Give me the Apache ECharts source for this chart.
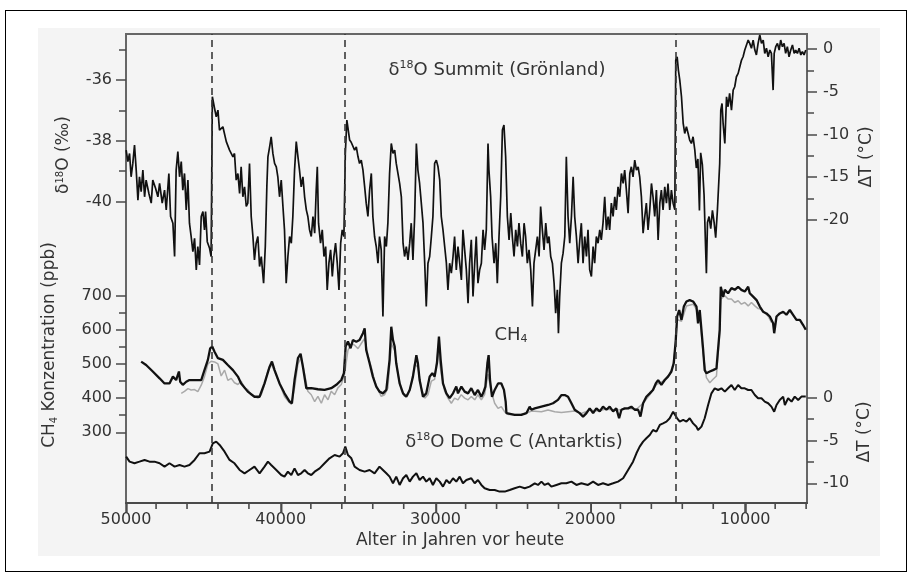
<!DOCTYPE html>
<html>
<head>
<meta charset="utf-8">
<script src="https://cdn.jsdelivr.net/npm/echarts@6/dist/echarts.min.js"></script>
<style>
    html, body { margin: 0; padding: 0; background: #fff; }
    #frame { position: absolute; left: 5px; top: 10px; width: 900px; height: 560px; border: 1px solid #000; }
    #panel { position: absolute; left: 38px; top: 28px; width: 842px; height: 528px; background: #f4f4f4; }
    #chart { position: absolute; left: 0; top: 0; width: 909px; height: 575px; }
</style>
</head>
<body>
<div id="frame"></div>
<div id="panel"></div>
<div id="chart"></div>
<script>
// Alter (Jahre vor heute) / Wert
const summitD18O = [
    [49990,-38.31],[49880,-38.69],[49770,-38.42],[49670,-39.19],[49560,-38.75],[49450,-38.14],[49340,-38.97],[49230,-39.96],
    [49130,-39.19],[49020,-39.68],[48910,-38.97],[48800,-39.85],[48700,-39.30],[48520,-39.74],[48370,-40.06],[48270,-39.30],
    [48090,-39.57],[47940,-39.85],[47830,-39.41],[47660,-40.06],[47510,-39.63],[47400,-40.28],[47230,-39.08],[47120,-40.50],
    [46970,-40.72],[46860,-41.82],[46760,-38.97],[46650,-38.36],[46540,-39.19],[46430,-38.69],[46330,-39.63],[46220,-39.08],
    [46110,-40.28],[46000,-39.30],[45900,-40.72],[45790,-41.16],[45680,-41.66],[45570,-41.22],[45460,-42.26],[45360,-41.49],
    [45250,-42.10],[45140,-40.50],[45030,-40.34],[44930,-40.94],[44860,-40.34],[44750,-41.33],[44600,-41.55],[44500,-41.82],
    [44420,-36.55],[44280,-36.93],[44170,-37.21],[44060,-36.99],[43960,-37.65],[43740,-37.54],[43520,-38.03],[43310,-38.31],
    [43090,-38.53],[42990,-38.42],[42880,-39.30],[42770,-39.08],[42660,-39.74],[42560,-38.86],[42450,-39.85],[42340,-39.52],
    [42230,-40.17],[42130,-40.06],[42020,-38.75],[41910,-40.50],[41800,-41.16],[41700,-41.93],[41590,-41.38],[41480,-41.16],
    [41370,-42.15],[41260,-41.82],[41110,-42.70],[41000,-41.49],[40900,-39.52],[40830,-38.53],[40720,-38.20],[40620,-37.87],
    [40510,-38.42],[40400,-38.75],[40290,-38.86],[40190,-39.19],[40080,-39.85],[39970,-39.30],[39860,-40.17],[39760,-40.94],
    [39650,-42.70],[39540,-41.82],[39430,-41.16],[39320,-41.38],[39220,-40.50],[39110,-38.97],[39000,-38.03],[38890,-38.53],
    [38790,-38.97],[38680,-39.52],[38570,-39.19],[38460,-39.85],[38350,-40.28],[38250,-40.50],[38140,-40.94],[38030,-41.16],
    [37920,-40.50],[37810,-41.05],[37710,-39.63],[37640,-38.86],[37560,-40.72],[37430,-41.38],[37320,-40.94],[37210,-41.82],
    [37100,-41.49],[37000,-42.92],[36890,-42.04],[36780,-41.60],[36670,-42.48],[36570,-41.82],[36460,-41.38],[36350,-42.04],
    [36240,-42.92],[36130,-41.38],[36030,-40.94],[35920,-41.16],[35830,-38.42],[35730,-37.32],[35550,-37.98],[35450,-38.05],
    [35340,-38.09],[35230,-38.31],[35120,-38.20],[35010,-38.53],[34910,-38.75],[34800,-38.64],[34690,-38.97],[34580,-39.52],
    [34480,-40.06],[34370,-40.50],[34260,-39.63],[34150,-39.08],[34050,-40.50],[33940,-41.16],[33830,-41.49],[33720,-42.04],
    [33620,-41.16],[33510,-41.60],[33400,-43.80],[33290,-41.16],[33180,-41.49],[33080,-40.72],[32970,-39.08],[32860,-38.09],
    [32750,-38.42],[32640,-38.31],[32540,-38.75],[32430,-39.08],[32320,-39.41],[32210,-39.85],[32100,-41.38],[32000,-41.82],
    [31890,-41.49],[31780,-41.93],[31670,-41.38],[31570,-40.72],[31460,-41.93],[31350,-40.50],[31240,-38.09],[31140,-38.97],
    [31030,-39.41],[30920,-40.06],[30810,-40.72],[30700,-42.04],[30600,-43.47],[30490,-42.04],[30380,-41.82],[30270,-41.16],
    [30170,-40.50],[30060,-38.75],[29950,-38.64],[29840,-38.86],[29730,-39.30],[29630,-40.50],[29520,-40.94],[29410,-41.49],
    [29300,-42.04],[29200,-42.92],[29090,-42.04],[28980,-42.37],[28870,-41.82],[28770,-41.16],[28660,-42.26],[28550,-41.49],
    [28440,-42.04],[28330,-42.59],[28230,-40.94],[28120,-41.60],[28010,-42.26],[27900,-43.36],[27800,-42.04],[27690,-41.27],
    [27580,-43.14],[27470,-42.04],[27370,-41.16],[27260,-42.70],[27150,-42.26],[27040,-42.04],[26930,-40.94],[26830,-41.60],
    [26720,-40.94],[26610,-38.09],[26550,-38.97],[26440,-39.85],[26350,-41.16],[26220,-42.04],[26110,-41.38],[26010,-42.70],
    [25900,-41.16],[25790,-39.85],[25680,-37.65],[25580,-37.48],[25470,-38.53],[25360,-40.50],[25250,-41.27],[25140,-40.39],
    [25040,-41.16],[24930,-41.82],[24820,-40.94],[24710,-41.49],[24610,-40.72],[24500,-41.38],[24390,-41.82],[24280,-40.72],
    [24180,-41.16],[24070,-42.04],[23960,-41.60],[23850,-42.26],[23740,-43.47],[23640,-42.04],[23530,-41.60],[23420,-41.16],
    [23310,-41.82],[23210,-40.17],[23100,-40.94],[22990,-41.60],[22880,-40.72],[22770,-41.38],[22670,-41.16],[22560,-41.82],
    [22450,-42.04],[22340,-42.70],[22240,-43.69],[22130,-42.92],[22060,-44.35],[21980,-43.14],[21870,-42.04],[21760,-41.71],
    [21650,-41.16],[21550,-38.53],[21440,-40.50],[21330,-41.38],[21220,-40.50],[21110,-39.19],[21010,-40.50],[20900,-41.16],
    [20790,-42.04],[20680,-41.27],[20580,-40.72],[20470,-42.04],[20360,-41.16],[20250,-41.82],[20150,-40.94],[20040,-42.26],
    [19930,-42.48],[19820,-41.49],[19720,-42.04],[19610,-41.16],[19500,-41.38],[19390,-40.94],[19290,-41.27],[19180,-40.72],
    [19070,-39.85],[18960,-40.94],[18850,-40.50],[18750,-40.94],[18640,-40.06],[18530,-40.50],[18420,-39.85],[18320,-40.28],
    [18210,-39.52],[18100,-39.85],[17990,-39.08],[17880,-39.41],[17780,-38.97],[17670,-39.63],[17560,-40.39],[17450,-39.08],
    [17350,-38.86],[17240,-39.19],[17130,-38.64],[17020,-38.97],[16910,-38.86],[16810,-39.19],[16700,-39.85],[16590,-41.05],
    [16480,-40.50],[16380,-40.06],[16270,-40.94],[16160,-40.28],[16050,-39.41],[15950,-39.85],[15840,-40.50],[15730,-39.63],
    [15620,-41.27],[15510,-40.06],[15410,-39.63],[15300,-40.28],[15190,-39.52],[15080,-40.06],[14980,-39.41],[14870,-40.28],
    [14760,-39.63],[14650,-40.06],[14540,-40.28],[14480,-35.34],[14390,-35.23],[14310,-35.67],[14220,-36.00],[14110,-36.55],
    [14000,-37.43],[13900,-37.76],[13790,-37.54],[13680,-37.76],[13580,-37.98],[13470,-38.09],[13360,-37.87],[13250,-38.30],
    [13150,-38.90],[13050,-38.60],[12950,-40.30],[12870,-38.40],[12760,-38.80],[12650,-39.80],[12560,-41.40],[12500,-42.37],
    [12430,-40.70],[12330,-40.50],[12220,-40.90],[12110,-40.30],[12000,-40.70],[11900,-41.20],[11790,-40.30],[11640,-38.75],
    [11570,-36.99],[11490,-36.77],[11420,-37.43],[11310,-38.09],[11200,-36.55],[11100,-36.88],[11000,-36.44],[10880,-36.99],
    [10770,-36.33],[10670,-36.22],[10560,-35.89],[10450,-35.78],[10340,-35.56],[10230,-35.34],[10130,-35.23],[10020,-35.01],
    [9910,-34.84],[9800,-34.68],[9700,-34.79],[9590,-34.95],[9480,-34.68],[9370,-35.01],[9270,-35.17],[9160,-34.79],
    [9050,-34.51],[8940,-34.79],[8830,-34.68],[8730,-35.12],[8620,-34.95],[8510,-35.23],[8400,-35.01],[8300,-35.12],
    [8190,-36.33],[8120,-35.12],[8020,-34.90],[7910,-34.79],[7800,-35.01],[7700,-34.68],[7590,-34.90],[7480,-34.79],
    [7380,-35.12],[7270,-34.90],[7160,-35.23],[7050,-35.01],[6940,-34.84],[6830,-35.12],[6730,-35.01],[6620,-35.12],
    [6510,-34.95],[6400,-35.17],[6300,-35.06],[6190,-35.17],[6080,-35.01]
];

// CH4 (ppb), schwarze Kurve
const ch4Main = [
    [49020,507],[48700,497],[48270,478],[47830,458],[47510,443],[47190,443],[46970,463],[46760,453],[46580,478],[46500,448],
    [46330,439],[46110,448],[45900,453],[45570,453],[45140,453],[44930,482],[44710,512],[44560,546],[44430,551],[44280,536],
    [44060,517],[43740,512],[43420,497],[43090,482],[42770,463],[42560,443],[42130,419],[41700,404],[41370,404],[41050,443],
    [40720,492],[40570,507],[40400,482],[40080,443],[39760,414],[39430,390],[39280,385],[39110,453],[38890,517],[38720,530],
    [38570,492],[38350,429],[38030,429],[37600,426],[37170,424],[36740,429],[36410,439],[36090,453],[35920,473],[35810,551],
    [35660,566],[35490,546],[35340,570],[35120,565],[34910,570],[34690,590],[34580,604],[34480,541],[34260,502],[34050,463],
    [33830,434],[33620,419],[33400,414],[33180,424],[32970,512],[32860,609],[32750,570],[32640,551],[32540,502],[32320,443],
    [32100,414],[31890,404],[31670,424],[31460,463],[31240,526],[31140,502],[31030,453],[30810,404],[30600,414],[30380,463],
    [30210,473],[30060,463],[29910,502],[29780,580],[29670,512],[29520,443],[29300,414],[29090,400],[28870,414],[28660,434],
    [28550,414],[28330,434],[28120,419],[27900,414],[27690,429],[27470,409],[27260,424],[27040,404],[26930,414],[26780,434],
    [26650,502],[26570,526],[26480,453],[26350,404],[26180,424],[25960,443],[25750,443],[25580,424],[25470,390],[25420,356],
    [25320,351],[24890,351],[24460,351],[24130,356],[23920,375],[23810,366],[23590,370],[23160,375],[22730,380],[22410,385],
    [22090,395],[21870,409],[21650,409],[21440,404],[21220,385],[21010,366],[20690,356],[20470,346],[20250,356],[20040,370],
    [19820,356],[19610,370],[19390,361],[19180,375],[18960,366],[18750,375],[18530,361],[18320,370],[18140,341],[17990,366],
    [17780,370],[17560,370],[17350,375],[17130,366],[16910,366],[16760,346],[16590,385],[16380,404],[16160,414],[15950,424],
    [15770,443],[15620,453],[15410,439],[15190,453],[14980,463],[14760,478],[14610,502],[14480,570],[14390,639],[14260,658],
    [14110,629],[13960,668],[13790,683],[13580,687],[13360,683],[13250,683],[13140,668],[13040,619],[12930,658],[12820,600],
    [12710,541],[12610,482],[12500,473],[12280,478],[12070,482],[11850,487],[11740,482],[11640,600],[11570,726],[11420,697],
    [11310,717],[11100,707],[10880,722],[10670,717],[10450,726],[10240,717],[10020,712],[9800,726],[9700,707],[9480,697],
    [9260,687],[9050,668],[8840,653],[8620,648],[8400,639],[8190,619],[8120,590],[7970,639],[7760,648],[7540,653],
    [7330,644],[7110,658],[6900,644],[6680,629],[6460,629],[6250,614],[6080,600]
];

// CH4 (ppb), zweiter Datensatz (grau)
const ch4Second = [
    [46430,414],[46220,420],[46000,428],[45790,424],[45570,425],[45360,419],[45140,438],[44930,463],[44710,500],[44500,508],
    [44280,506],[44060,500],[43850,465],[43630,482],[43420,452],[43200,458],[42990,445],[42770,440],[42560,450],[42340,430],
    [42130,425],[41910,410],[41700,405],[41480,400],[41260,410],[41050,440],[40830,480],[40620,500],[40400,478],[40190,455],
    [39970,430],[39760,405],[39540,392],[39320,382],[39110,430],[38890,500],[38680,520],[38460,470],[38250,420],[38030,410],
    [37810,390],[37600,405],[37380,385],[37170,410],[36950,395],[36740,420],[36520,410],[36310,430],[36090,440],[35880,470],
    [35660,540],[35450,560],[35230,555],[35010,545],[34800,560],[34580,575],[34370,525],[34150,490],[33940,450],[33720,425],
    [33510,405],[33290,410],[33080,430],[32860,560],[32640,540],[32430,470],[32210,425],[32000,405],[31780,410],[31570,440],
    [31350,500],[31140,490],[30920,430],[30700,400],[30490,410],[30270,450],[30060,455],[29840,540],[29630,470],[29410,420],
    [29200,400],[28980,385],[28770,400],[28550,395],[28340,410],[28120,400],[27900,395],[27690,405],[27470,395],[27260,410],
    [27040,395],[26830,410],[26610,470],[26400,420],[26180,385],[25960,370],[25750,375],[25530,360],[25310,352],[24890,352],
    [24460,353],[24130,356],[23800,362],[23160,360],[22730,365],[22300,360],[21870,358],[21440,360],[21010,362],[20580,355],
    [20040,365],[19500,362],[19000,368],[18500,365],[18000,366],[17500,370],[17000,368],[16590,385],[16160,410],[15730,440],
    [15300,450],[14870,470],[14650,500],[14480,560],[14390,630],[14110,625],[13790,670],[13360,675],[13140,660],[12930,640],
    [12710,530],[12500,460],[12280,445],[12070,455],[11850,465],[11640,590],[11570,690],[11310,700],[11100,690],[10880,690],
    [10670,680],[10450,685],[10240,675],[10020,680],[9800,670],[9590,680],[9370,670],[9160,662],[8940,660],[8730,650],
    [8510,640],[8300,622]
];

// Dome C, Temperaturabweichung (°C)
const domeC = [
    [49990,-6.88],[49770,-7.47],[49450,-7.66],[49130,-7.47],[48800,-7.27],[48480,-7.47],[48160,-7.47],[47830,-7.66],
    [47510,-8.05],[47190,-7.66],[46860,-8.05],[46540,-7.86],[46220,-8.05],[45900,-7.86],[45570,-7.27],[45250,-6.49],
    [44930,-6.49],[44600,-6.30],[44390,-5.33],[44170,-5.13],[43950,-5.52],[43630,-6.30],[43310,-7.27],[42990,-7.66],
    [42660,-8.44],[42340,-8.83],[42020,-8.44],[41700,-8.05],[41370,-8.83],[41050,-8.05],[40830,-7.47],[40620,-7.86],
    [40290,-8.44],[39970,-9.03],[39760,-9.22],[39540,-8.64],[39320,-9.03],[39110,-8.25],[38890,-9.03],[38680,-8.83],
    [38460,-8.44],[38250,-8.83],[38030,-9.03],[37810,-8.64],[37490,-8.25],[37170,-7.66],[36850,-7.08],[36520,-6.69],
    [36200,-6.88],[35980,-6.49],[35830,-5.72],[35660,-6.69],[35440,-7.08],[35230,-8.05],[34910,-8.44],[34580,-8.64],
    [34260,-8.44],[33940,-8.83],[33620,-8.05],[33400,-8.44],[33180,-8.83],[32970,-9.22],[32750,-10.00],[32540,-9.22],
    [32320,-10.19],[32100,-9.41],[31890,-9.03],[31670,-9.80],[31460,-9.22],[31240,-8.83],[31030,-9.61],[30810,-9.22],
    [30600,-9.80],[30380,-9.41],[30170,-10.19],[29950,-9.41],[29730,-9.80],[29520,-10.39],[29300,-9.61],[29090,-10.00],
    [28870,-9.41],[28660,-9.80],[28440,-9.22],[28230,-10.00],[28010,-9.61],[27690,-9.41],[27470,-10.00],[27260,-9.61],
    [27040,-10.19],[26830,-10.58],[26500,-10.78],[26180,-10.78],[25860,-10.97],[25530,-10.97],[25210,-10.78],[24890,-10.58],
    [24560,-10.39],[24240,-10.58],[23920,-10.39],[23590,-10.00],[23380,-10.19],[23160,-9.80],[22950,-10.19],[22730,-10.00],
    [22520,-10.39],[22190,-10.19],[21870,-10.00],[21550,-10.00],[21220,-9.80],[20900,-10.19],[20580,-10.00],[20150,-10.19],
    [19820,-9.80],[19500,-10.19],[19180,-10.00],[18850,-10.19],[18530,-10.00],[18210,-9.80],[17880,-9.41],[17560,-8.44],
    [17240,-7.47],[17020,-6.49],[16810,-5.72],[16590,-5.13],[16380,-4.74],[16160,-4.35],[15950,-3.77],[15730,-3.96],
    [15510,-3.18],[15300,-2.99],[15080,-2.79],[14870,-2.40],[14650,-1.63],[14540,-1.43],[14390,-2.40],[14220,-2.79],
    [14000,-2.60],[13790,-2.79],[13580,-2.40],[13360,-3.00],[13140,-3.40],[13040,-3.77],[12820,-3.38],[12610,-2.40],
    [12390,-0.85],[12175,0.51],[11960,1.10],[11740,0.90],[11530,1.10],[11310,0.71],[11100,1.10],[10880,1.49],
    [10670,0.90],[10450,1.49],[10240,1.10],[10020,1.10],[9800,0.90],[9590,0.90],[9370,0.32],[9160,-0.07],
    [8940,-0.07],[8730,-0.46],[8510,-0.65],[8300,-1.04],[8120,-1.63],[7970,-0.85],[7760,-0.26],[7540,0.13],
    [7430,-0.85],[7220,-0.07],[7000,-0.46],[6790,0.13],[6570,-0.26],[6360,0.13],[6080,0.13]
];

// gestrichelte Linien
const eventAges = [44460, 35850, 14460];

// Achsen-Ticks
const xMajor = [50000, 40000, 30000, 20000, 10000];
const xMinor = [48000, 46000, 44000, 42000, 38000, 36000, 34000, 32000, 28000, 26000, 24000, 22000, 18000, 16000, 14000, 12000, 8000, 6000];
const d18oMajor = [-36, -38, -40];
const d18oMinor = [-35, -37, -39];
const ch4Major = [300, 400, 500, 600, 700];
const ch4Minor = [350, 450, 550, 650];
const dtTopMajor = [0, -5, -10, -15, -20];
const dtTopMinor = [-2.5, -7.5, -12.5, -17.5];
const dtBottomMajor = [0, -5, -10];
const dtBottomMinor = [-2.5, -7.5];

!function(){

    const font      = 'DejaVu Sans';
    const textColor = '#333';
    const axisColor = '#4a4a4a';

    // y-Achse, nur Ticks (und evtl. Beschriftung)
    function yAxis(position, min, max, ticks, length, labels){
        return {
            type: 'value',
            position: position,
            min: min,
            max: max,
            axisLine: { show: false },
            splitLine: { show: false },
            axisTick: {
                show: true,
                customValues: ticks,
                length: length,
                lineStyle: { color: axisColor, width: 1.5 }
            },
            axisLabel: labels ? {
                show: true,
                customValues: labels,
                margin: position == 'left' ? 14 : 16,
                formatter: v => String(v),
                color: textColor,
                fontSize: 16,
                fontFamily: font
            } : { show: false }
        }
    }

    // Ticks unter der x-Achse als kleine Balken: Position über die x-Achse,
    // Länge über die Hilfsachse yAxis[8] (0 = Unterkante, negative Werte = darunter)
    function xTicks(values, depth){
        return {
            type: 'bar', xAxisIndex: 0, yAxisIndex: 8,
            data: values.map(v => [v, depth]),
            barWidth: 1.6, silent: true, z: 5,
            clip: false,
            itemStyle: { color: axisColor }
        }
    }

    const rich = {
        n:   { fontSize: 18, fontFamily: font, color: textColor },
        sup: { fontSize: 11, fontFamily: font, color: textColor, padding: [0, 0, 9, 0] },
        sub: { fontSize: 11, fontFamily: font, color: textColor, padding: [9, 0, 0, 0] },
        a:   { fontSize: 17, fontFamily: font, color: textColor },
        asup:{ fontSize: 10, fontFamily: font, color: textColor, padding: [0, 0, 8, 0] },
        asub:{ fontSize: 10, fontFamily: font, color: textColor, padding: [8, 0, 0, 0] }
    };

    function label(x, y, text, rotate){
        return {
            type: 'text',
            x: x,
            y: y,
            rotation: rotate ? Math.PI / 2 : 0,
            style: { text: text, rich: rich, align: 'center', verticalAlign: 'middle', fill: textColor }
        }
    }

    const chart = echarts.init(document.getElementById('chart'));

    const option = {
        animation: false,
        grid: {
            left: 126, right: 102, top: 34, bottom: 72,
            show: true,
            borderColor: '#666',
            borderWidth: 2,
            backgroundColor: 'transparent'
        },
        xAxis: {
            type: 'value', min: 6000, max: 50000, inverse: true, position: 'bottom',
            axisLine: { show: true, onZero: false, lineStyle: { color: axisColor, width: 2 } },
            splitLine: { show: false },
            axisTick: { show: true, customValues: xMajor, length: 10, lineStyle: { color: axisColor, width: 1.5 } },
            axisLabel: {
                customValues: xMajor, margin: 9, formatter: v => String(v),
                color: textColor, fontSize: 16, fontFamily: font
            }
        },
        yAxis: [
            yAxis('left',  -49.95, -34.48, d18oMajor, 10, d18oMajor),
            yAxis('left',  -49.95, -34.48, d18oMinor, 7),
            yAxis('left',  93, 1466, ch4Major, 10, ch4Major),
            yAxis('left',  93, 1466, ch4Minor, 7),
            yAxis('right', -53.19, 1.76, dtTopMajor, 10, dtTopMajor),
            yAxis('right', -53.19, 1.76, dtTopMinor, 7),
            yAxis('right', -12.30, 42.49, dtBottomMajor, 10, dtBottomMajor),
            yAxis('right', -12.30, 42.49, dtBottomMinor, 7),
            // Hilfsachse für die x-Ticks: 1 Einheit = 1 Pixel, 0 an der Unterkante
            {
                type: 'value', min: 0, max: 469, position: 'left',
                axisLine: { show: false }, axisTick: { show: false },
                axisLabel: { show: false }, splitLine: { show: false }
            }
        ],
        series: [
            {
                name: 'Summit', type: 'line', xAxisIndex: 0, yAxisIndex: 0,
                data: summitD18O, showSymbol: false, z: 3,
                lineStyle: { color: '#111', width: 1.7 },
                markLine: {
                    silent: true, symbol: 'none',
                    label: { show: false },
                    lineStyle: { color: '#3a3a3a', width: 1.6, type: [7, 5] },
                    data: eventAges.map(a => ({ xAxis: a }))
                }
            },
            {
                name: 'CH4 grau', type: 'line', xAxisIndex: 0, yAxisIndex: 2,
                data: ch4Second, showSymbol: false, z: 2,
                lineStyle: { color: '#a9a9a9', width: 1.5 }
            },
            {
                name: 'CH4', type: 'line', xAxisIndex: 0, yAxisIndex: 2,
                data: ch4Main, showSymbol: false, z: 3,
                lineStyle: { color: '#111', width: 2.3 }
            },
            {
                name: 'Dome C', type: 'line', xAxisIndex: 0, yAxisIndex: 6,
                data: domeC, showSymbol: false, z: 3,
                lineStyle: { color: '#111', width: 2 }
            },
            xTicks(xMinor, -6),
            xTicks(xMajor, -10)
        ],
        graphic: [
            label(497, 70,  '{n|δ}{sup|18}{n|O Summit (Grönland)}'),
            label(511, 335, '{n|CH}{sub|4}'),
            label(514, 442, '{n|δ}{sup|18}{n|O Dome C (Antarktis)}'),
            label(64, 155,  '{a|δ}{asup|18}{a|O (‰)}', true),
            label(50, 345,  '{a|CH}{asub|4}{a| Konzentration (ppb)}', true),
            label(867, 157, '{a|ΔT (°C)}', true),
            label(865, 432, '{a|ΔT (°C)}', true),
            label(460, 541, '{a|Alter in Jahren vor heute}')
        ]
    };

    chart.setOption(option);

}()
</script>
</body>
</html>
